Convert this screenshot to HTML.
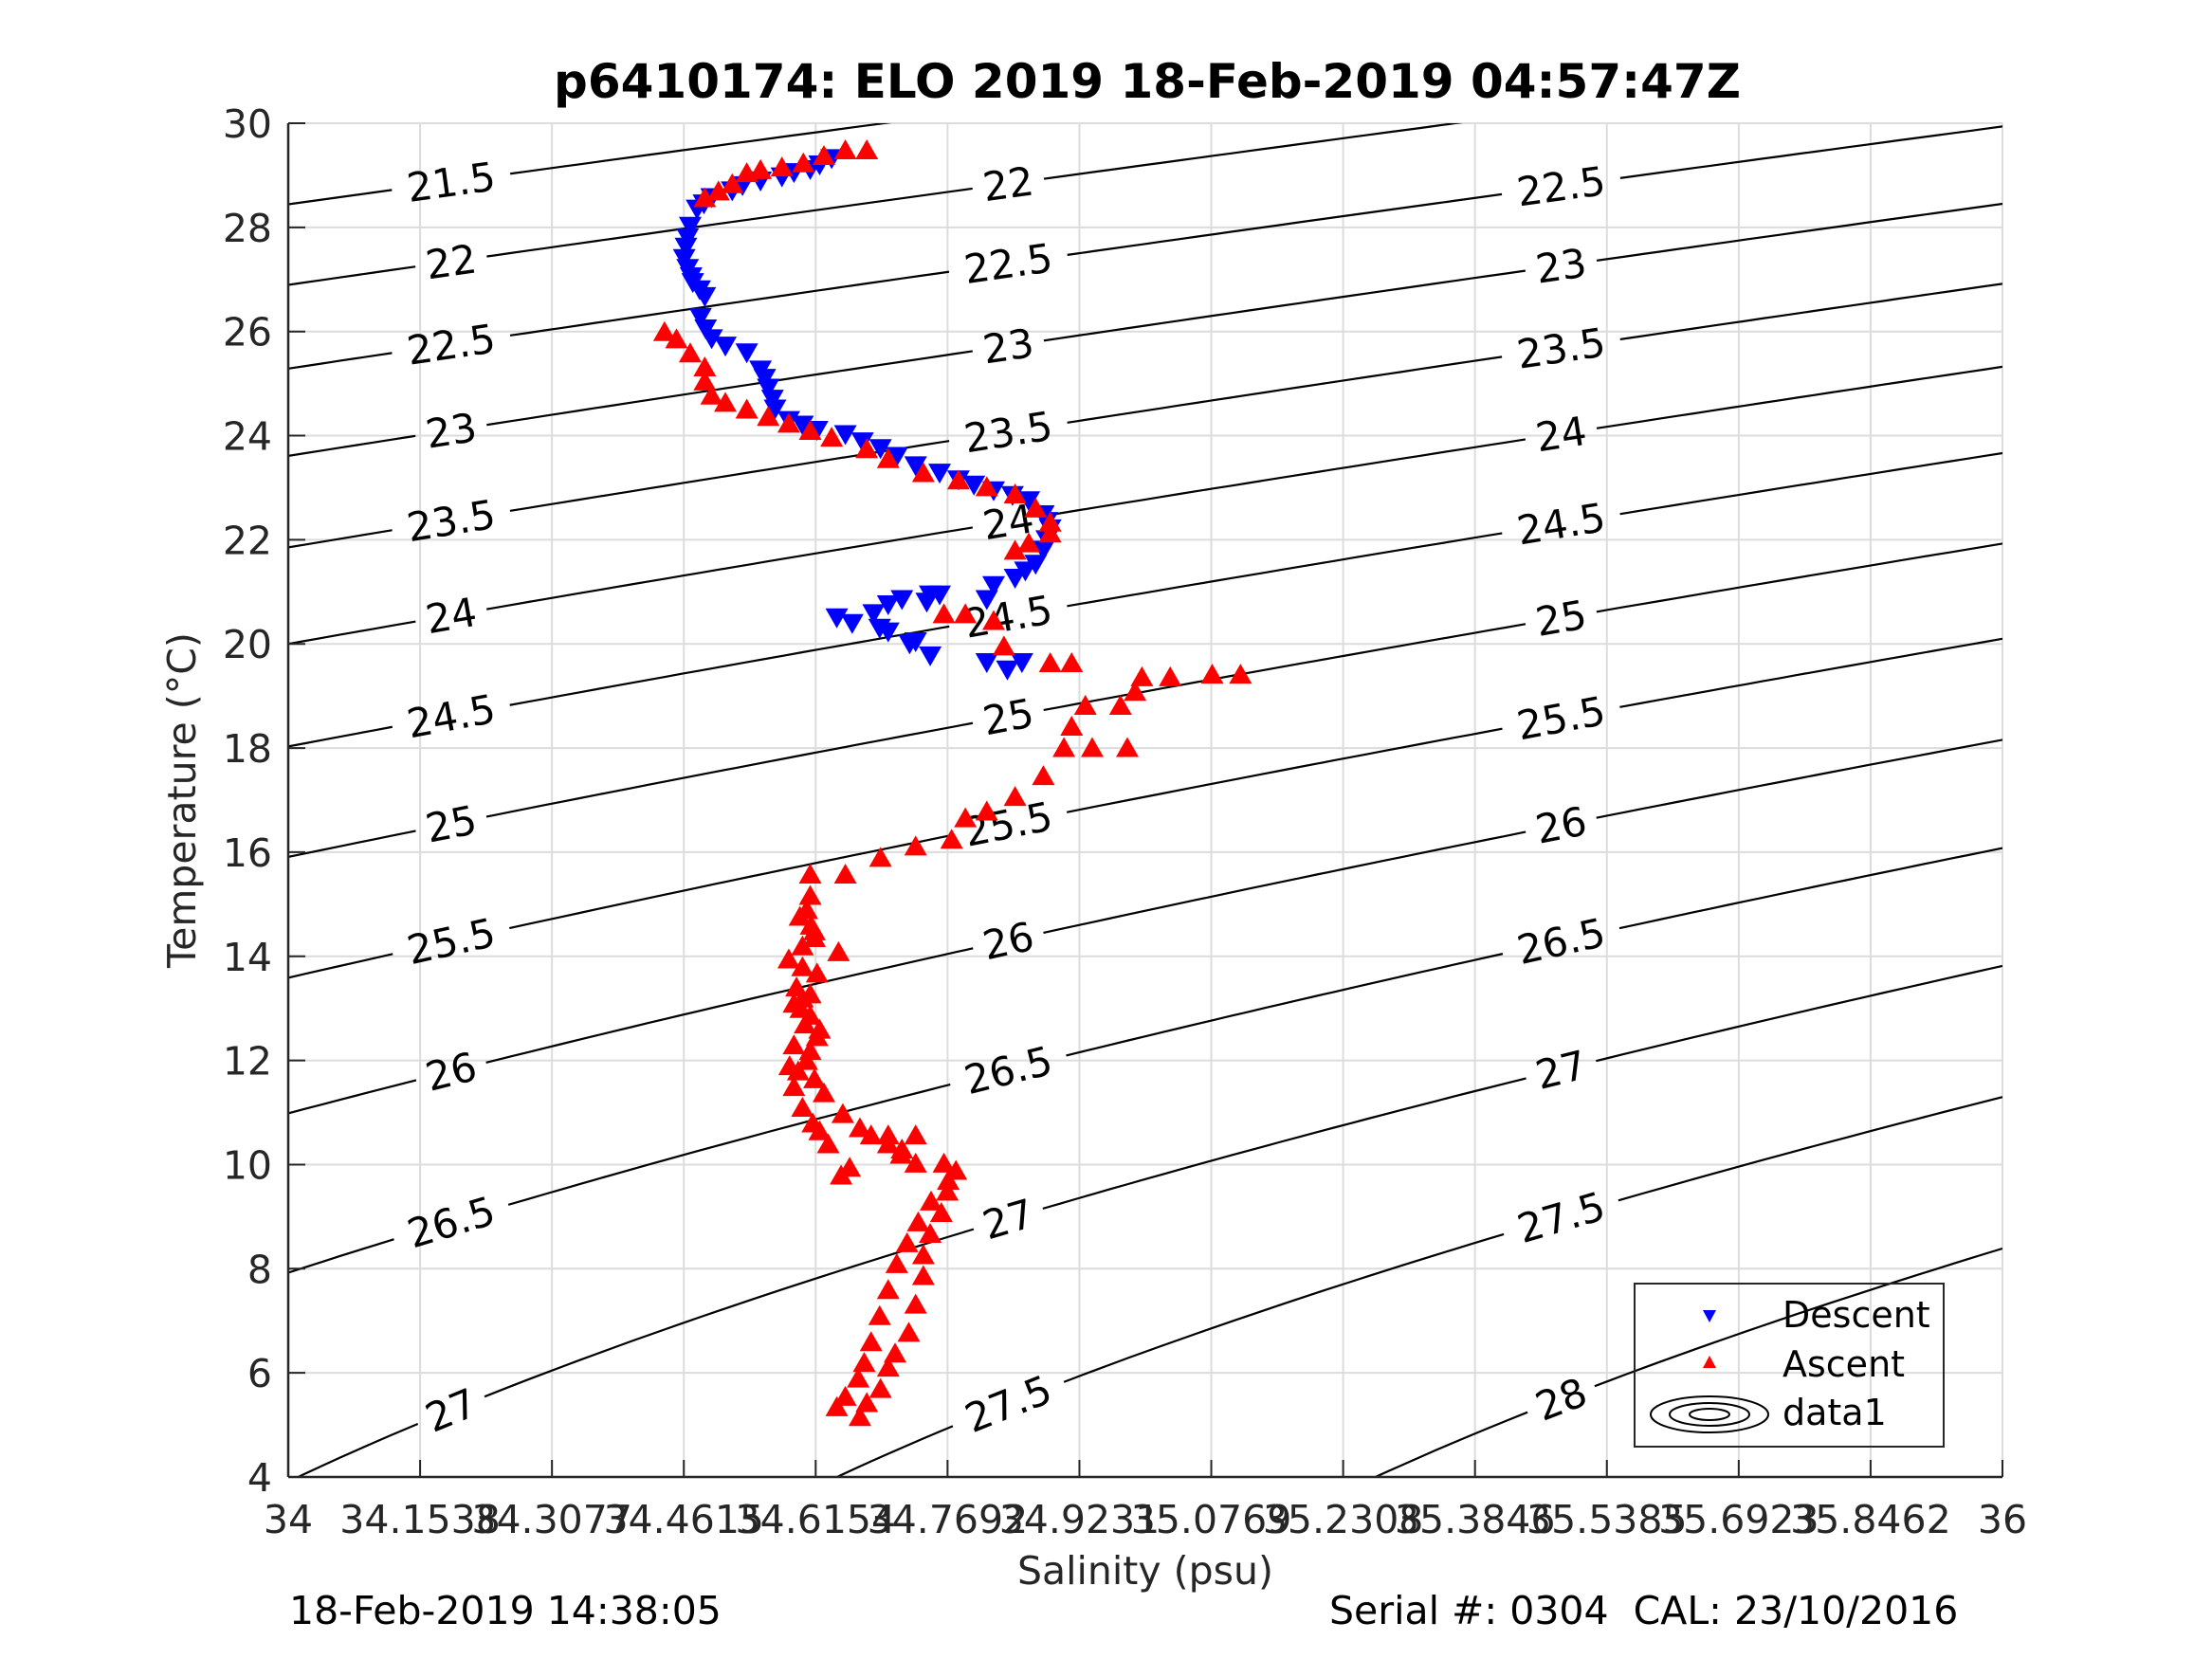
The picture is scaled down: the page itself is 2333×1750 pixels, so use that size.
<!DOCTYPE html>
<html><head><meta charset="utf-8">
<style>
html,body{margin:0;padding:0;background:#fff;overflow:hidden;width:2333px;height:1750px;}
svg{display:block;font-family:"DejaVu Sans","Liberation Sans",sans-serif;}
</style></head>
<body>
<svg id="chart" width="2333" height="1750" viewBox="0 0 2333 1750" xmlns="http://www.w3.org/2000/svg">
<rect x="0" y="0" width="2333" height="1750" fill="#fff"/>
<defs><mask id="labelMask"><rect x="0" y="0" width="2333" height="1750" fill="#fff"/><g id="maskHoles"></g></mask>
<clipPath id="plotClip"><rect x="304" y="130" width="1808" height="1428"/></clipPath></defs>
<g id="grid"></g>
<g id="contours" clip-path="url(#plotClip)"><g id="contourLines" mask="url(#labelMask)"></g></g>
<g id="contourLabels"></g>
<g id="descent"></g>
<g id="ascent"></g>
<g id="axes"></g>
<text x="1210" y="103" font-size="50" font-weight="bold" text-anchor="middle" fill="#000">p6410174: ELO 2019 18-Feb-2019 04:57:47Z</text>
<text x="1208" y="1671" font-size="41" text-anchor="middle" fill="#262626">Salinity (psu)</text>
<text transform="translate(206,844) rotate(-90)" font-size="41" text-anchor="middle" fill="#262626">Temperature (°C)</text>
<text x="305" y="1713" font-size="41" fill="#000">18-Feb-2019 14:38:05</text>
<text x="1402" y="1713" font-size="41" fill="#000" xml:space="preserve">Serial #: 0304  CAL: 23/10/2016</text>
<g id="legend">
<rect x="1724" y="1354" width="326" height="172" fill="none" stroke="#262626" stroke-width="2"/>
<polygon points="1796,1382 1810,1382 1803,1395" fill="#00f"/>
<text x="1880" y="1400" font-size="38" fill="#000">Descent</text>
<polygon points="1796,1443 1810,1443 1803,1430" fill="#f00"/>
<text x="1880" y="1452" font-size="38" fill="#000">Ascent</text>
<g fill="none" stroke="#000" stroke-width="2">
<ellipse cx="1803" cy="1492" rx="62" ry="19"/><ellipse cx="1803" cy="1492" rx="42" ry="12"/><ellipse cx="1803" cy="1492" rx="21" ry="6"/></g>
<text x="1880" y="1503" font-size="38" fill="#000">data1</text>
</g>
</svg>
<script>
const sigmaLevels = [21.5,22,22.5,23,23.5,24,24.5,25,25.5,26,26.5,27,27.5,28];
const labelSal = [34.19, 34.84, 35.485];
const yTicks = [4,6,8,10,12,14,16,18,20,22,24,26,28,30];
const xTickCount = 14;
const descentS = [34.634,34.620,34.609,34.590,34.576,34.551,34.530,34.518,34.494,34.485,34.477,34.469,34.466,34.464,34.462,34.466,34.470,34.472,34.480,34.486,34.481,34.487,34.494,34.510,34.535,34.551,34.556,34.560,34.565,34.568,34.584,34.600,34.617,34.650,34.670,34.691,34.710,34.732,34.760,34.782,34.800,34.823,34.845,34.864,34.881,34.885,34.889,34.885,34.881,34.872,34.860,34.848,34.823,34.815,34.749,34.716,34.683,34.658,34.640,34.700,34.732,34.749,34.815,34.839,34.856,34.760,34.700,34.690,34.725,34.745];
const descentT = [29.32,29.20,29.11,29.05,28.97,28.89,28.80,28.70,28.57,28.45,28.35,28.02,27.80,27.62,27.40,27.21,27.05,26.94,26.80,26.67,26.27,26.05,25.86,25.72,25.59,25.26,25.10,24.91,24.70,24.51,24.29,24.20,24.10,24.02,23.88,23.75,23.60,23.42,23.28,23.15,23.05,22.94,22.85,22.75,22.48,22.35,22.21,22.00,21.80,21.53,21.40,21.26,21.12,20.85,20.94,20.85,20.58,20.39,20.50,20.23,20.04,19.77,19.64,19.50,19.64,20.94,20.75,20.30,20.00,20.80];
const ascentS = [34.667,34.675,34.691,34.700,34.708,34.724,34.732,34.741,34.741,34.749,34.762,34.769,34.779,34.765,34.732,34.716,34.732,34.700,34.667,34.647,34.625,34.614,34.609,34.617,34.609,34.609,34.617,34.593,34.584,34.614,34.642,34.614,34.597,34.609,34.609,34.650,34.691,34.732,34.774,34.790,34.815,34.848,34.881,34.905,34.938,34.979,34.914,34.930,34.971,34.988,34.996,35.029,35.078,35.111,34.914,34.889,34.835,34.823,34.790,34.765,34.848,34.864,34.889,34.889,34.872,34.848,34.815,34.782,34.741,34.700,34.675,34.634,34.609,34.584,34.560,34.535,34.510,34.494,34.486,34.486,34.469,34.453,34.439,34.486,34.502,34.518,34.535,34.551,34.576,34.601,34.625,34.650,34.675,34.770,34.750,34.735,34.722,34.710,34.700,34.690,34.680,34.672,34.665,34.650,34.640,34.630,34.620,34.612,34.600,34.590,34.585,34.590,34.603,34.590,34.600,34.680,34.700,34.715,34.655,34.645,34.610,34.605,34.600,34.600,34.598,34.620,34.605,34.595];
const ascentT = [5.16,5.43,5.70,6.11,6.38,6.78,7.32,7.87,8.27,8.68,9.08,9.49,9.89,10.03,10.03,10.30,10.57,10.57,10.71,10.98,11.38,11.65,12.19,12.46,12.87,13.28,13.68,13.41,13.95,14.36,14.09,14.49,14.77,15.17,15.58,15.58,15.90,16.12,16.25,16.66,16.79,17.07,17.47,18.01,18.01,18.01,18.42,18.82,18.82,19.09,19.37,19.37,19.42,19.42,19.64,19.64,19.96,20.45,20.58,20.58,21.80,21.94,22.13,22.34,22.61,22.88,23.02,23.15,23.29,23.56,23.75,23.97,24.10,24.24,24.37,24.51,24.64,24.78,25.05,25.32,25.59,25.86,26.00,28.57,28.70,28.84,29.05,29.11,29.16,29.24,29.38,29.49,29.49,9.70,9.30,8.90,8.50,8.10,7.60,7.10,6.60,6.20,5.90,5.55,5.35,10.40,10.65,10.80,11.10,11.50,11.90,12.30,12.70,13.10,13.20,10.57,10.40,10.20,9.95,9.80,14.60,14.90,14.20,13.80,13.00,12.60,12.00,11.80];

const NS='http://www.w3.org/2000/svg';
const X0=304,X1=2112,Y0=130,Y1=1558;
const sx=s=>X0+(s-34)/2*(X1-X0);
const sy=t=>Y1-(t-4)/26*(Y1-Y0);
function mk(tag,attrs,parent){const e=document.createElementNS(NS,tag);for(const k in attrs)e.setAttribute(k,attrs[k]);parent.appendChild(e);return e;}
function sigma(S,T){
 const rw=999.842594+6.793952e-2*T-9.095290e-3*T*T+1.001685e-4*T**3-1.120083e-6*T**4+6.536332e-9*T**5;
 const A=8.24493e-1-4.0899e-3*T+7.6438e-5*T*T-8.2467e-7*T**3+5.3875e-9*T**4;
 const B=-5.72466e-3+1.0227e-4*T-1.6546e-6*T*T;
 return rw+A*S+B*Math.pow(S,1.5)+4.8314e-4*S*S-1000;}
function tFor(S,sg){let lo=-2,hi=40;for(let i=0;i<50;i++){const m=(lo+hi)/2;if(sigma(S,m)>sg)lo=m;else hi=m;}return (lo+hi)/2;}

const grid=document.getElementById('grid'),axes=document.getElementById('axes');
for(let i=0;i<xTickCount;i++){
 const v=34+i*2/(xTickCount-1),x=sx(v);
 const g=mk('line',{x1:x,y1:Y0,x2:x,y2:Y1,stroke:'#dcdcdc','stroke-width':2},grid);
 
 
 const tk=mk('line',{x1:x,y1:Y1,x2:x,y2:Y1-18,stroke:'#262626','stroke-width':2},axes);
 
 
 const lb=mk('text',{x:x,y:1617,'font-size':41,'text-anchor':'middle',fill:'#262626'},axes);
 
 
 lb.textContent=parseFloat(v.toFixed(4)).toString();
}
yTicks.forEach(v=>{
 const y=sy(v);
 const g=mk('line',{x1:X0,y1:y,x2:X1,y2:y,stroke:'#dcdcdc','stroke-width':2},grid);
 
 
 const tk=mk('line',{x1:X0,y1:y,x2:X0+18,y2:y,stroke:'#262626','stroke-width':2},axes);
 
 
 const lb=mk('text',{x:287,y:y+15,'font-size':41,'text-anchor':'end',fill:'#262626'},axes);
 
 
 lb.textContent=v;
});
const ax1=mk('line',{x1:X0,y1:Y0,x2:X0,y2:Y1,stroke:'#262626','stroke-width':2.5},axes);


const ax2=mk('line',{x1:X0,y1:Y1,x2:X1,y2:Y1,stroke:'#262626','stroke-width':2.5},axes);



const cl=document.getElementById('contourLines'),lbG=document.getElementById('contourLabels'),holes=document.getElementById('maskHoles');
sigmaLevels.forEach(sg=>{
 let pts=[];
 for(let i=0;i<=100;i++){const S=34+i*0.02;pts.push(sx(S).toFixed(1)+','+sy(tFor(S,sg)).toFixed(1));}
 const pl=mk('polyline',{points:pts.join(' '),fill:'none',stroke:'#000','stroke-width':2.2},cl);
 
 
 labelSal.forEach(S=>{
  const T=tFor(S,sg);
  if(T<4.6||T>29.6)return;
  const x=sx(S),y=sy(T);
  const ang=Math.atan2(sy(tFor(S+0.01,sg))-sy(tFor(S-0.01,sg)),sx(S+0.01)-sx(S-0.01))*180/Math.PI;
  const txt=String(sg);const w=txt.length*25+26;
  mk('rect',{x:-w/2,y:-26,width:w,height:52,fill:'#000',transform:`translate(${x},${y}) rotate(${ang})`},holes);
  const t=mk('text',{x:0,y:15,'font-size':42,'text-anchor':'middle',fill:'#000',transform:`translate(${x},${y}) rotate(${ang})`},lbG);
  
  
  t.textContent=txt;
 });
});

const dG=document.getElementById('descent'),aG=document.getElementById('ascent');
descentS.forEach((S,i)=>{
 const x=sx(S),y=sy(descentT[i]);
 const p=mk('polygon',{points:`${x-12},${y-10} ${x+12},${y-10} ${x},${y+11}`,fill:'#00f'},dG);
 
 
});
ascentS.forEach((S,i)=>{
 const x=sx(S),y=sy(ascentT[i]);
 const p=mk('polygon',{points:`${x-12},${y+10} ${x+12},${y+10} ${x},${y-11}`,fill:'#f00'},aG);
 
 
});
</script>
</body></html>
